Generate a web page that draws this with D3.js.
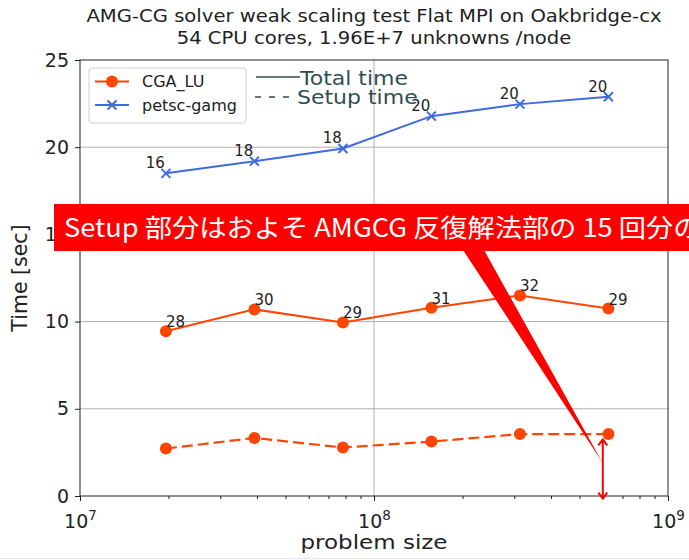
<!DOCTYPE html>
<html><head><meta charset="utf-8">
<script src="https://cdn.jsdelivr.net/npm/d3@7"></script>
<style>html,body{margin:0;padding:0;background:#fff;overflow:hidden}</style>
</head><body>
<script>
// ---- data ----
const problemSize = [1.96e7, 3.92e7, 7.84e7, 1.568e8, 3.136e8, 6.272e8];
const cgaTotal    = [9.45, 10.7, 9.95, 10.8, 11.5, 10.75];
const cgaSetup    = [2.72, 3.33, 2.78, 3.12, 3.55, 3.55];
const petscTotal  = [18.5, 19.2, 19.93, 21.78, 22.47, 22.89];
const cgaIters    = [28, 30, 29, 31, 32, 29];
const petscIters  = [16, 18, 18, 20, 20, 20];
const yTicks = [0, 5, 10, 15, 20, 25];
const xTicks = [1e7, 1e8, 1e9];
const xExps  = ["7", "8", "9"];
const seriesNames = ["CGA_LU", "petsc-gamg"];
const styleNames = ["Total time", "Setup time"];
const titleLines = ["AMG-CG solver weak scaling test Flat MPI on Oakbridge-cx", "54 CPU cores, 1.96E+7 unknowns /node"];
const calloutText = "Setup 部分はおよそ AMGCG 反復解法部の 15 回分の";
const calloutTip = [5.97e8, 1.95];
const arrowX = 6.0e8, arrowTop = 3.25, arrowBottom = -0.15;

// ---- layout ----
const W = 689, H = 560;
const L = 80, R = 668, T = 60, B = 496;
const font = "'DejaVu Sans', sans-serif";
const cOrange = "#ff4500", cBlue = "#4169e1", cSlate = "#2f4f4f", cGrid = "#b0b0b0";

const svg = d3.select("body").append("svg").attr("width", W).attr("height", H)
  .style("font-family", font);

// text with a slight horizontal stretch (the reference glyphs are wider than tall)
function stext(parent, x0, y0, str, size, sx, opts = {}) {
  const g = parent.append("g").attr("transform", `translate(${x0},${y0}) scale(${sx},1)`);
  const t = g.append("text").attr("x", 0).attr("y", 0).attr("font-size", size)
    .attr("fill", opts.fill || "#222").attr("text-anchor", opts.anchor || "start")
    .attr("font-family", opts.family || font).text(str);
  return t;
}

const x = d3.scaleLog().domain([1e7, 1e9]).range([L, R]);
const y = d3.scaleLinear().domain([0, 25]).range([B, T]);

// grid
svg.append("g").selectAll("line").data(yTicks.filter(d => d > 0 && d < 25)).join("line")
  .attr("x1", L).attr("x2", R).attr("y1", d => y(d)).attr("y2", d => y(d))
  .attr("stroke", cGrid).attr("stroke-width", 1);
svg.append("g").selectAll("line").data(xTicks.filter(d => d > 1e7 && d < 1e9)).join("line")
  .attr("x1", d => x(d)).attr("x2", d => x(d)).attr("y1", T).attr("y2", B)
  .attr("stroke", cGrid).attr("stroke-width", 1);

// y axis
const yAxis = d3.axisLeft(y).tickValues(yTicks).tickSize(5).tickPadding(6).tickFormat(d3.format("d"));
const gy = svg.append("g").attr("transform", `translate(${L},0)`).call(yAxis);
gy.select(".domain").remove();
gy.selectAll("text").attr("font-size", 19).attr("font-family", font).attr("fill", "#222");
gy.selectAll("line").attr("stroke", "#222");

// x axis major + minor ticks
const minor = [];
for (let e = 7; e < 9; e++) for (let m = 2; m <= 9; m++) minor.push(m * Math.pow(10, e));
const xAxisMinor = d3.axisBottom(x).tickValues(minor).tickSize(3).tickFormat("");
const gxm = svg.append("g").attr("transform", `translate(0,${B})`).call(xAxisMinor);
gxm.select(".domain").remove();
gxm.selectAll("line").attr("stroke", "#222");
const xAxis = d3.axisBottom(x).tickValues(xTicks).tickSize(5).tickFormat("");
const gx = svg.append("g").attr("transform", `translate(0,${B})`).call(xAxis);
gx.select(".domain").remove();
gx.selectAll("line").attr("stroke", "#222");
gx.selectAll(".tick").each(function(d, i) {
  const t = d3.select(this).append("text").attr("y", 32).attr("text-anchor", "middle")
    .attr("font-size", 19).attr("fill", "#222").attr("font-family", font);
  t.append("tspan").text("10");
  t.append("tspan").attr("dy", -8).attr("font-size", 13.5).text(xExps[i]);
});

// spines
svg.append("rect").attr("x", L).attr("y", T).attr("width", R - L).attr("height", B - T)
  .attr("fill", "none").attr("stroke", "#222").attr("stroke-width", 1);

// axis labels
stext(svg, (L + R) / 2, 549, "problem size", 20, 1.15, {anchor: "middle"});
svg.append("text").attr("transform", `translate(27,${(T + B) / 2}) rotate(-90)`)
  .attr("text-anchor", "middle").attr("font-size", 20.5).attr("fill", "#222").text("Time [sec]");

// title
titleLines.forEach((s, i) => {
  stext(svg, (L + R) / 2, 22 + i * 22, s, 18, 1.09, {anchor: "middle"});
});

// series
const pts = a => a.map((v, i) => [problemSize[i], v]);
const line = d3.line().x(d => x(d[0])).y(d => y(d[1]));

svg.append("path").attr("d", line(pts(petscTotal))).attr("fill", "none")
  .attr("stroke", cBlue).attr("stroke-width", 2);
svg.append("path").attr("d", line(pts(cgaTotal))).attr("fill", "none")
  .attr("stroke", cOrange).attr("stroke-width", 2);
svg.append("path").attr("d", line(pts(cgaSetup))).attr("fill", "none")
  .attr("stroke", cOrange).attr("stroke-width", 2.2).attr("stroke-dasharray", "11,5");

svg.append("g").selectAll("circle").data(pts(cgaTotal).concat(pts(cgaSetup))).join("circle")
  .attr("cx", d => x(d[0])).attr("cy", d => y(d[1])).attr("r", 6).attr("fill", cOrange);

const xMark = (g, cx, cy, s) => g.append("path")
  .attr("d", `M${cx - s},${cy - s}L${cx + s},${cy + s}M${cx - s},${cy + s}L${cx + s},${cy - s}`)
  .attr("stroke", cBlue).attr("stroke-width", 2).attr("fill", "none");
const gp = svg.append("g");
pts(petscTotal).forEach(d => xMark(gp, x(d[0]), y(d[1]), 4.5));

// iteration labels
svg.append("g").selectAll("text").data(cgaIters).join("text")
  .attr("x", (d, i) => x(problemSize[i]))
  .attr("y", (d, i) => y(cgaTotal[i]) - 4)
  .attr("font-size", 15).attr("fill", "#222").text(d => d);
svg.append("g").selectAll("text").data(petscIters).join("text")
  .attr("x", (d, i) => x(problemSize[i]) - 1)
  .attr("y", (d, i) => y(petscTotal[i]) - 5).attr("text-anchor", "end")
  .attr("font-size", 15).attr("fill", "#222").text(d => d);

// legend 1
const lg = svg.append("g");
lg.append("rect").attr("x", 89).attr("y", 68).attr("width", 157).attr("height", 55)
  .attr("rx", 3).attr("fill", "#fff").attr("fill-opacity", 0.8).attr("stroke", "#d0d0d0");
[[cOrange, "o"], [cBlue, "x"]].forEach((c, i) => {
  const yy = 81.5 + i * 23.5;
  lg.append("line").attr("x1", 95).attr("x2", 129).attr("y1", yy).attr("y2", yy)
    .attr("stroke", c[0]).attr("stroke-width", 2);
  if (c[1] === "o") lg.append("circle").attr("cx", 112).attr("cy", yy).attr("r", 6).attr("fill", c[0]);
  else xMark(lg, 112, yy, 4.5);
  lg.append("text").attr("x", 142).attr("y", yy + 5.5).attr("font-size", 16)
    .attr("fill", "#222").text(seriesNames[i]);
});

// legend 2 (line styles)
const lg2 = svg.append("g");
lg2.append("line").attr("x1", 256).attr("x2", 300).attr("y1", 77).attr("y2", 77)
  .attr("stroke", cSlate).attr("stroke-width", 1.6);
lg2.append("line").attr("x1", 255).attr("x2", 297).attr("y1", 97).attr("y2", 97)
  .attr("stroke", cSlate).attr("stroke-width", 1.6).attr("stroke-dasharray", "6,8");
stext(lg2, 300, 85, styleNames[0], 20, 1.1, {fill: cSlate});
stext(lg2, 297, 104, styleNames[1], 20, 1.1, {fill: cSlate});

// callout box + wedge
const ann = svg.append("g");
ann.append("rect").attr("x", 54).attr("y", 204).attr("width", W - 54).attr("height", 47).attr("fill", "#ff0000");
ann.append("path")
  .attr("d", `M463,250L484,250L${x(calloutTip[0])},${y(calloutTip[1])}Z`).attr("fill", "#ff0000");
stext(ann, 64, 237, calloutText, 25, 1.09,
  {fill: "#fff", family: "'Noto Sans CJK JP','Noto Sans',sans-serif"});

// double arrow
const ax = x(arrowX), at = y(arrowTop), ab = y(arrowBottom);
ann.append("path").attr("d", `M${ax},${at}L${ax},${ab}M${ax - 4.5},${at + 6}L${ax},${at}L${ax + 4.5},${at + 6}M${ax - 4.5},${ab - 6}L${ax},${ab}L${ax + 4.5},${ab - 6}`)
  .attr("stroke", "#ff0000").attr("stroke-width", 2).attr("fill", "none");

// faint bottom edge
svg.append("line").attr("x1", 0).attr("x2", W).attr("y1", 558.5).attr("y2", 558.5).attr("stroke", "#e6e6e6");
</script>
</body></html>
